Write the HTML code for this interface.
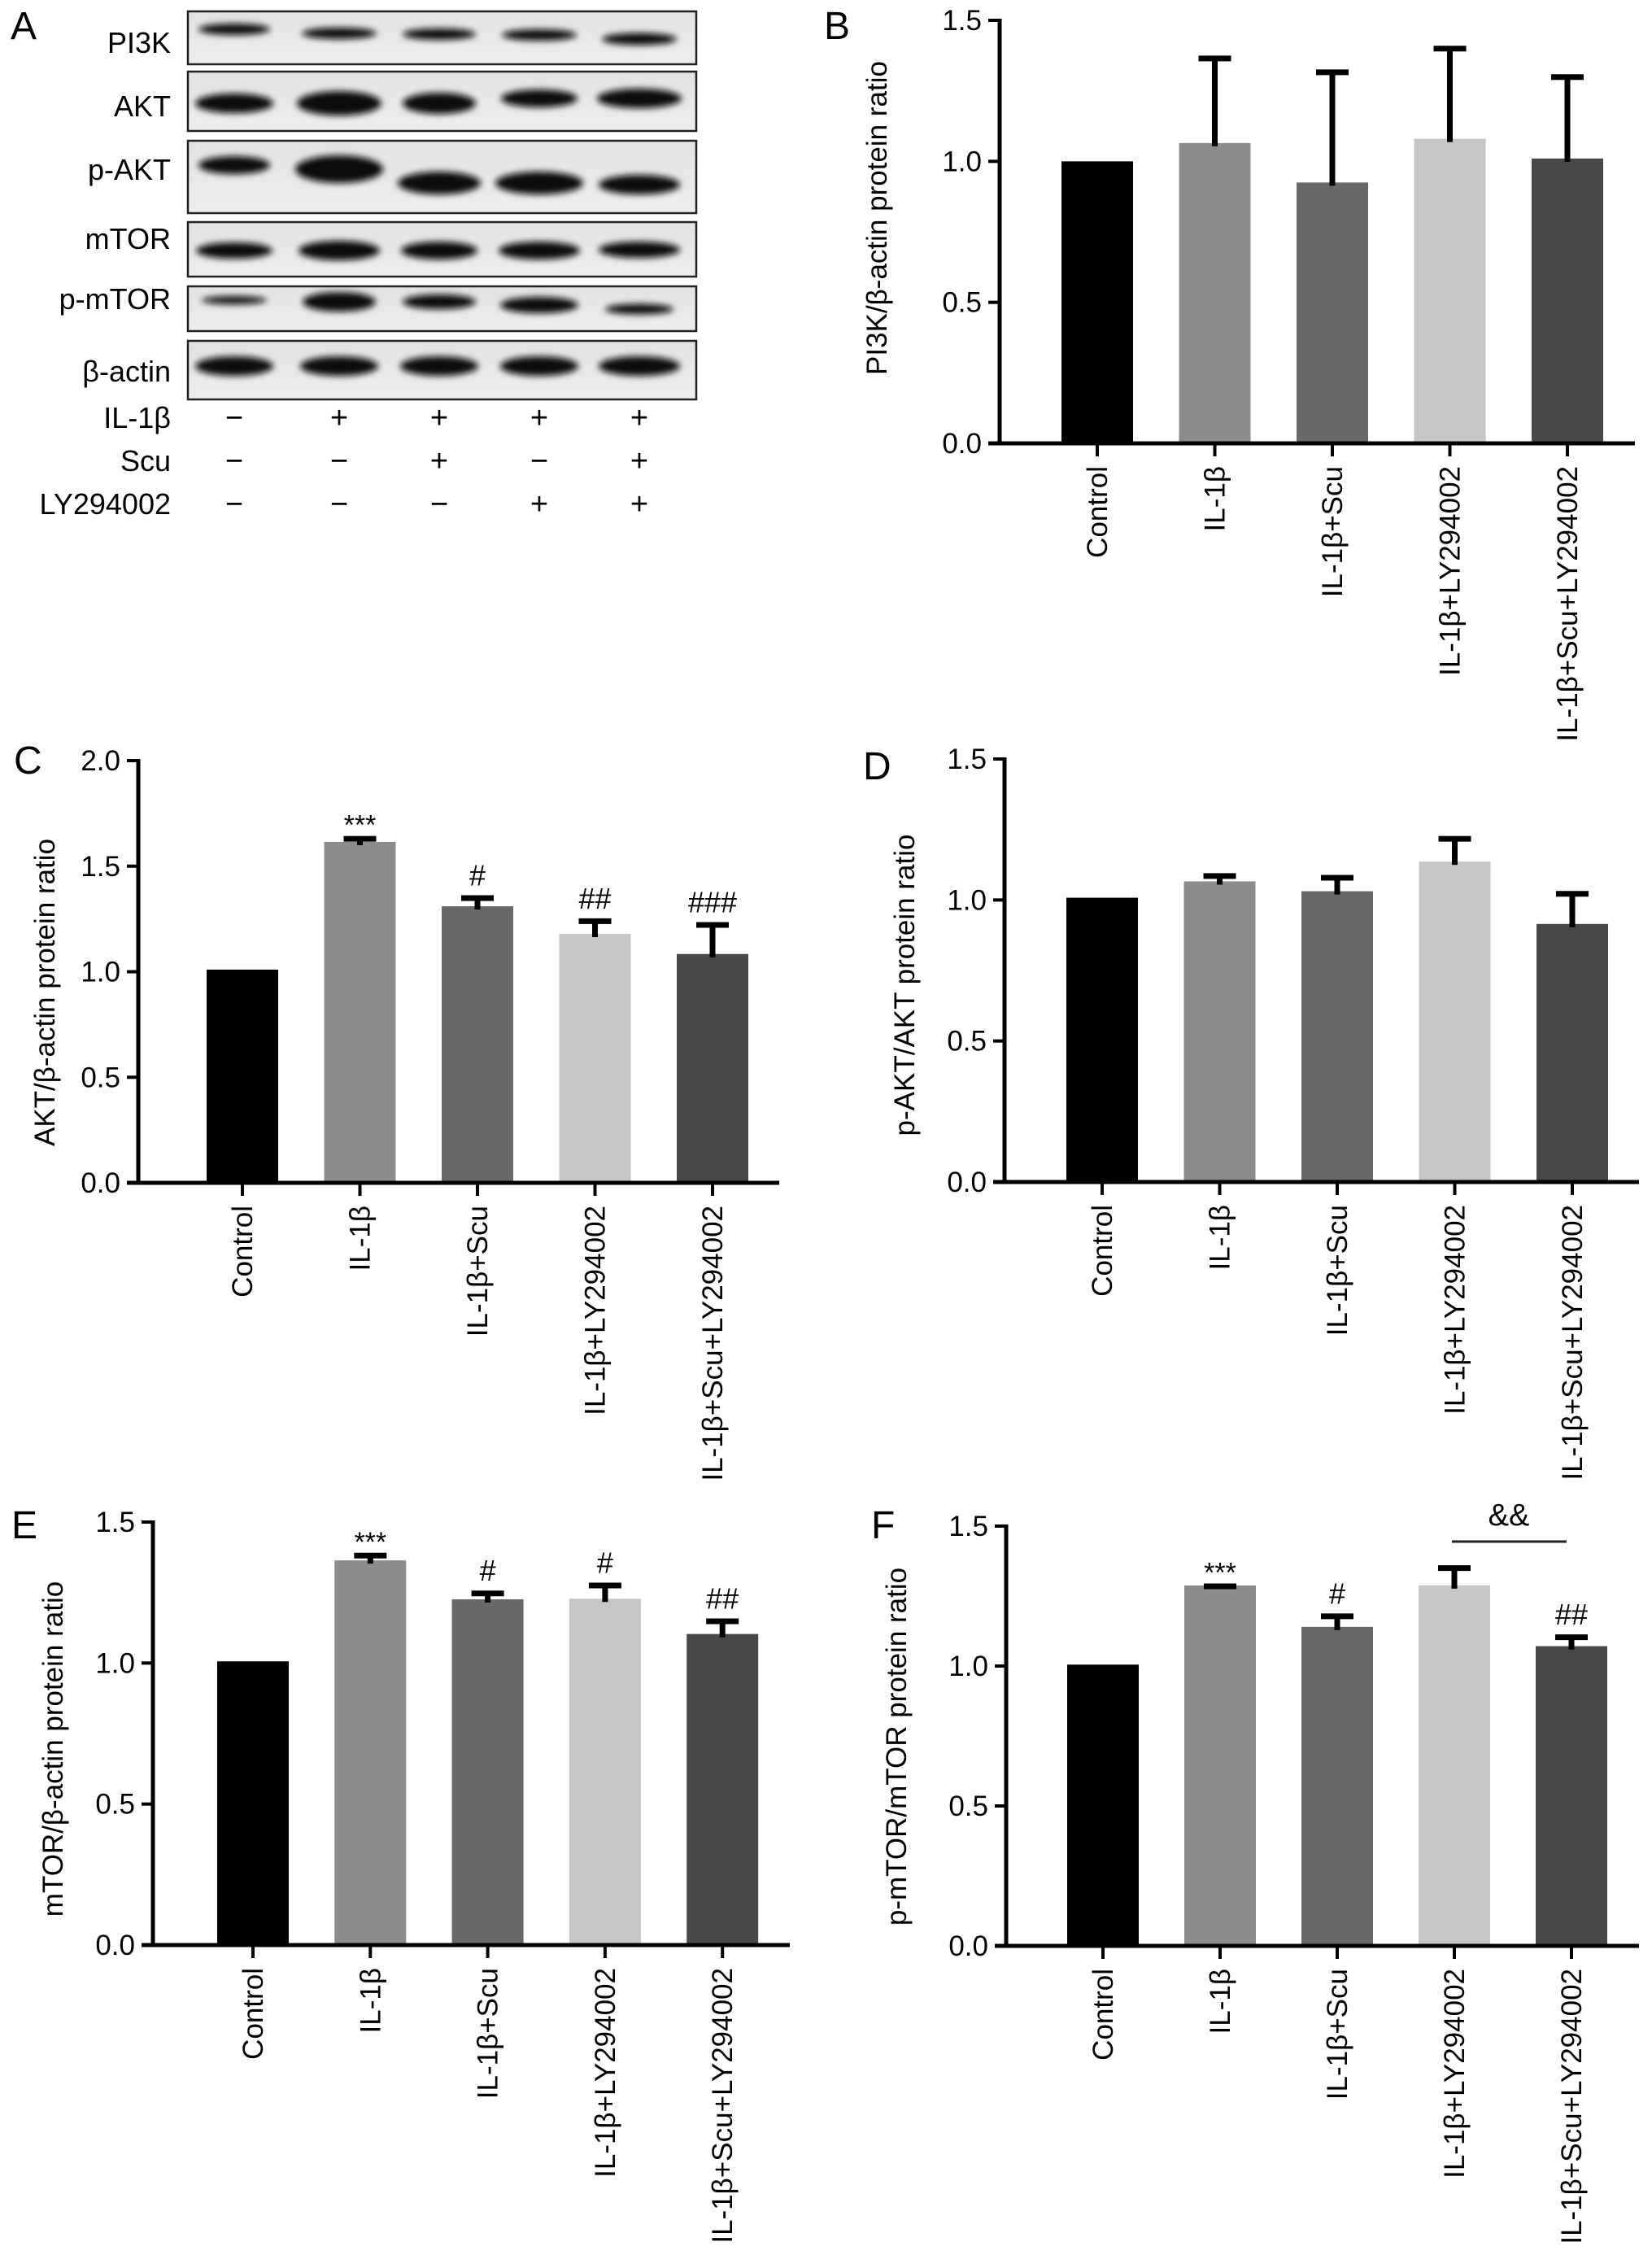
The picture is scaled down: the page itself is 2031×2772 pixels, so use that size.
<!DOCTYPE html>
<html><head><meta charset="utf-8">
<style>
html,body{margin:0;padding:0;background:#fff;}
svg{display:block;font-family:"Liberation Sans",Arial,sans-serif;}
</style></head>
<body>
<svg id="fig" width="2031" height="2772" viewBox="0 0 2031 2772" xmlns="http://www.w3.org/2000/svg">
<defs>
<filter id="blur" x="-20%" y="-50%" width="140%" height="200%"><feGaussianBlur stdDeviation="4"/></filter>
<linearGradient id="blotbg" x1="0" x2="0" y1="0" y2="1"><stop offset="0" stop-color="#e2e2e2"/><stop offset="1" stop-color="#eeeeee"/></linearGradient>
</defs>
<g id="blotA"></g>
<g id="charts"></g>
</svg>
<script>
const NS="http://www.w3.org/2000/svg";
const categories=["Control","IL-1β","IL-1β+Scu","IL-1β+LY294002","IL-1β+Scu+LY294002"];
const barColors=["#000000","#8c8c8c","#686868","#c6c6c6","#484848"];
const pi3kValues=[1.00,1.065,0.925,1.08,1.01];
const pi3kErrors=[1.00,1.375,1.326,1.41,1.309];
const aktValues=[1.01,1.615,1.31,1.179,1.084];
const aktErrors=[1.01,1.643,1.362,1.253,1.235];
const aktMarks=["","***","#","##","###"];
const paktValues=[1.008,1.066,1.031,1.136,0.915];
const paktErrors=[1.008,1.095,1.089,1.227,1.032];
const mtorValues=[1.006,1.364,1.226,1.228,1.103];
const mtorErrors=[1.006,1.391,1.257,1.285,1.158];
const mtorMarks=["","***","#","#","##"];
const pmtorValues=[1.005,1.288,1.14,1.288,1.071];
const pmtorErrors=[1.005,1.295,1.188,1.36,1.113];
const pmtorMarks=["","***","#","","##"];
const ticks15=["0.0","0.5","1.0","1.5"];
const ticks20=["0.0","0.5","1.0","1.5","2.0"];
const blotLabels=["PI3K","AKT","p-AKT","mTOR","p-mTOR","β-actin"];
const treatLabels=["IL-1β","Scu","LY294002"];
const treatIL=["−","+","+","+","+"];
const treatScu=["−","−","+","−","+"];
const treatLY=["−","−","−","+","+"];

function mk(tag,attrs,parent,text){const e=document.createElementNS(NS,tag);for(const k in attrs)e.setAttribute(k,attrs[k]);if(text!==undefined)e.textContent=text;parent.appendChild(e);return e;}

const svg=document.getElementById('fig');
const charts=document.getElementById('charts');

// ---------- Panel A (blot) ----------
const A=document.getElementById('blotA');
const lab=mk('text',{x:13,y:48,'font-size':48},A,'A');


const boxes=[[14,79],[88,161],[173,262],[273,340],[352,407],[419,491]];
const labBase=[65,143,221,306,380,469];
const laneX=[288,417,540,663,786];
const bands=[
 [[36,14,88],[41,14,92],[42,14,90],[43,14,92],[48,15,92]],
 [[127,24,96],[127,30,104],[127,26,90],[121,22,94],[121,24,104]],
 [[203,22,88],[208,34,108],[225,28,102],[225,28,108],[227,24,100]],
 [[308,20,94],[308,24,100],[308,22,94],[308,22,100],[307,20,100]],
 [[369,10,80],[371,24,90],[371,18,90],[375,20,96],[380,13,84]],
 [[450,24,96],[450,24,96],[450,24,96],[450,24,96],[450,24,100]]
];
boxes.forEach((b,i)=>{
  const g=mk('g',{},A);
  
  
  mk('rect',{x:231,y:b[0],width:625,height:b[1]-b[0],fill:'url(#blotbg)'},g);
  const clip='clip'+i;
  const cp=mk('clipPath',{id:clip},g);
  mk('rect',{x:231,y:b[0],width:625,height:b[1]-b[0]},cp);
  const bg=mk('g',{'clip-path':'url(#'+clip+')',filter:'url(#blur)'},g);
  bands[i].forEach((bd,j)=>{
    mk('ellipse',{cx:laneX[j],cy:bd[0],rx:bd[2]/2,ry:bd[1]/2,fill:'#111'},bg);
  });
  mk('rect',{x:231,y:b[0],width:625,height:b[1]-b[0],fill:'none',stroke:'#222','stroke-width':2.5},g);
  const t=mk('text',{x:210,y:labBase[i],'font-size':36,'text-anchor':'end'},A,blotLabels[i]);
  
  
});
const treatY=[526,579,632];
[treatIL,treatScu,treatLY].forEach((row,i)=>{
  const t=mk('text',{x:210,y:treatY[i],'font-size':36,'text-anchor':'end'},A,treatLabels[i]);
  
  
  row.forEach((s,j)=>{
    const u=mk('text',{x:laneX[j],y:treatY[i],'font-size':38,'text-anchor':'middle'},A,s);
    
    
  });
});

// ---------- Bar charts ----------
function barChart(cfg){
  const g=mk('g',{},charts);
  
  
  const ymax=cfg.ymax;
  const y=v=>cfg.y0-(v/ymax)*(cfg.y0-cfg.yTop);
  const x=i=>cfg.c0+i*cfg.pitch;
  const L=mk('text',{x:cfg.label[0],y:cfg.label[1],'font-size':48},g,cfg.letter);
  
  
  // bars
  cfg.values.forEach((v,i)=>{
    const r=mk('rect',{x:x(i)-44,y:y(v),width:88,height:cfg.y0-y(v),fill:barColors[i]},g);
    
    
    if(cfg.errors[i]>v+0.001){
      const e=mk('path',{d:`M${x(i)},${y(v)+4}V${y(cfg.errors[i])}M${x(i)-20},${y(cfg.errors[i])+3.5}H${x(i)+20}`,stroke:'#000','stroke-width':7,fill:'none'},g);
      
      
    }
    if(cfg.marks&&cfg.marks[i]){
      const star=cfg.marks[i].indexOf('*')>=0;
      const m=mk('text',{x:x(i),y:y(cfg.errors[i])-(star?2:12),'font-size':star?34:36,'text-anchor':'middle'},g,cfg.marks[i]);
      
      
    }
  });
  // axes
  const ax=mk('path',{d:`M${cfg.ax},${cfg.yTop-2}V${cfg.y0}M${cfg.ax-14},${cfg.y0}H${cfg.xEnd}`,stroke:'#000','stroke-width':5,fill:'none'},g);
  
  
  cfg.ticks.forEach((t,i)=>{
    const v=parseFloat(t);
    mk('line',{x1:cfg.ax-14,x2:cfg.ax,y1:y(v),y2:y(v),stroke:'#000','stroke-width':4},g);
    const tt=mk('text',{x:cfg.ax-22,y:y(v)+12,'font-size':35,'text-anchor':'end'},g,t);
    
    
  });
  categories.forEach((c,i)=>{
    mk('line',{x1:x(i),x2:x(i),y1:cfg.y0,y2:cfg.y0+16,stroke:'#000','stroke-width':4},g);
    const tx=x(i)+12, ty=cfg.y0+28;
    const ct=mk('text',{x:tx,y:ty,'font-size':35,'text-anchor':'end',transform:`rotate(-90 ${tx} ${ty})`},g,c);
    
    
  });
  const tt=mk('text',{x:cfg.title[0],y:cfg.title[1],'font-size':35,'text-anchor':'middle',transform:`rotate(-90 ${cfg.title[0]} ${cfg.title[1]})`},g,cfg.ytitle);
  
  
  return {g,x,y};
}

barChart({name:'chart-b-pi3k',letter:'B',label:[1013,48],values:pi3kValues,errors:pi3kErrors,ymax:1.5,ticks:ticks15,
  ax:1229,y0:545,yTop:25,c0:1349,pitch:144.5,xEnd:2010,ytitle:'PI3K/β-actin protein ratio',title:[1090,268]});
barChart({name:'chart-c-akt',letter:'C',label:[17,951],values:aktValues,errors:aktErrors,marks:aktMarks,ymax:2.0,ticks:ticks20,
  ax:170,y0:1454,yTop:935,c0:298,pitch:144.5,xEnd:958,ytitle:'AKT/β-actin protein ratio',title:[67,1220]});
barChart({name:'chart-d-pakt',letter:'D',label:[1061,958],values:paktValues,errors:paktErrors,ymax:1.5,ticks:ticks15,
  ax:1235,y0:1453,yTop:933,c0:1355,pitch:144.5,xEnd:2015,ytitle:'p-AKT/AKT protein ratio',title:[1124,1211]});
barChart({name:'chart-e-mtor',letter:'E',label:[14,1891],values:mtorValues,errors:mtorErrors,marks:mtorMarks,ymax:1.5,ticks:ticks15,
  ax:188,y0:2391,yTop:1871,c0:311,pitch:144.3,xEnd:971,ytitle:'mTOR/β-actin protein ratio',title:[77,2150]});
const F=barChart({name:'chart-f-pmtor',letter:'F',label:[1071,1891],values:pmtorValues,errors:pmtorErrors,marks:pmtorMarks,ymax:1.5,ticks:ticks15,
  ax:1237,y0:2392,yTop:1876,c0:1356,pitch:144,xEnd:2015,ytitle:'p-mTOR/mTOR protein ratio',title:[1114,2147]});
const br=mk('line',{x1:F.x(3)-3,x2:F.x(4)-6,y1:1895,y2:1895,stroke:'#222','stroke-width':3},F.g);


const amp=mk('text',{x:(F.x(3)+F.x(4))/2-5,y:1875,'font-size':38,'text-anchor':'middle'},F.g,'&&');


</script>
</body></html>
